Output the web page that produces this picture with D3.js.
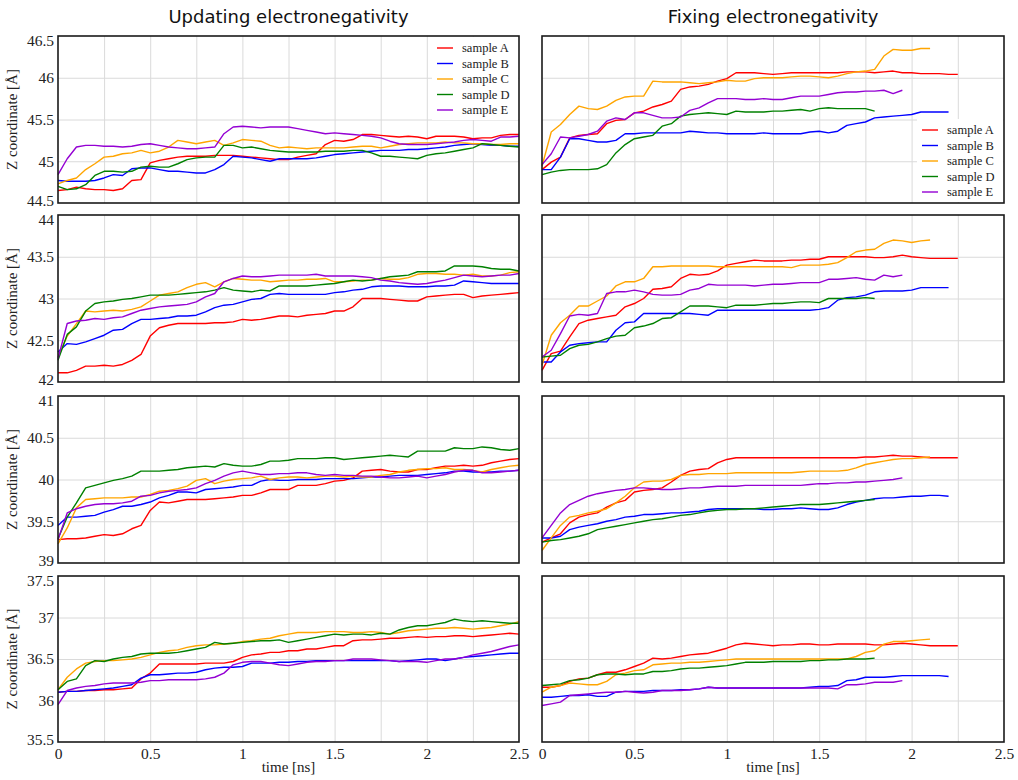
<!DOCTYPE html>
<html>
<head>
<meta charset="utf-8">
<script src="https://cdn.jsdelivr.net/npm/d3@7"></script>
<style>
  body { margin: 0; background: #fff; }
  svg { display: block; }
</style>
</head>
<body>
<svg id="chart" width="1018" height="780"></svg>
<script>
// ---- data -------------------------------------------------------------
// sampling times (ns), one value every 0.05 ns
const time = d3.range(0, 2.5001, 0.05).map(d => +d.toFixed(2));

const sampleNames = ["sample A", "sample B", "sample C", "sample D", "sample E"];
const sampleColors = ["#ff0000", "#0000ff", "#ffa500", "#008000", "#9400d3"];
const columnTitles = ["Updating electronegativity", "Fixing electronegativity"];
const yDomains = [[44.5, 46.5], [42, 44], [39, 41], [35.5, 37.5]];
const yTickValues = [
  [44.5, 45, 45.5, 46, 46.5],
  [42, 42.5, 43, 43.5, 44],
  [39, 39.5, 40, 40.5, 41],
  [35.5, 36, 36.5, 37, 37.5]
];
const xTickValues = [0, 0.5, 1, 1.5, 2, 2.5];
const xGridValues = [0.25, 0.5, 0.75, 1, 1.25, 1.5, 1.75, 2, 2.25];

// Updating electronegativity, layer 1
const upd1A = [44.65, 44.66, 44.69, 44.67, 44.66, 44.66, 44.65, 44.67, 44.77, 44.78,
  44.98, 45.01, 45.03, 45.05, 45.06, 45.06, 45.06, 45.07, 45.07, 45.07,
  45.06, 45.05, 45.04, 45.03, 45.02, 45.02, 45.05, 45.07, 45.09, 45.2,
  45.25, 45.24, 45.26, 45.32, 45.32, 45.31, 45.3, 45.29, 45.3, 45.29,
  45.27, 45.3, 45.3, 45.3, 45.29, 45.27, 45.28, 45.28, 45.31, 45.32, 45.32];
const upd1B = [44.77, 44.76, 44.76, 44.76, 44.77, 44.8, 44.84, 44.83, 44.91, 44.92,
  44.92, 44.9, 44.88, 44.88, 44.87, 44.86, 44.86, 44.9, 44.96, 45.06,
  45.05, 45.04, 45.02, 45.0, 45.03, 45.03, 45.03, 45.03, 45.04, 45.06,
  45.08, 45.09, 45.1, 45.11, 45.12, 45.13, 45.13, 45.13, 45.14, 45.14,
  45.15, 45.16, 45.17, 45.19, 45.2, 45.21, 45.2, 45.19, 45.19, 45.18, 45.18];
const upd1C = [44.73, 44.77, 44.8, 44.9, 44.97, 45.05, 45.06, 45.09, 45.1, 45.13,
  45.1, 45.12, 45.17, 45.25, 45.23, 45.21, 45.23, 45.25, 45.19, 45.22,
  45.26, 45.25, 45.24, 45.19, 45.16, 45.17, 45.16, 45.15, 45.16, 45.16,
  45.16, 45.16, 45.17, 45.18, 45.18, 45.16, 45.18, 45.2, 45.21, 45.22,
  45.22, 45.22, 45.23, 45.22, 45.22, 45.21, 45.21, 45.2, 45.2, 45.21, 45.21];
const upd1D = [44.7, 44.66, 44.67, 44.72, 44.83, 44.88, 44.88, 44.87, 44.88, 44.93,
  44.94, 44.93, 44.93, 44.97, 45.02, 45.04, 45.05, 45.05, 45.19, 45.19,
  45.16, 45.17, 45.15, 45.13, 45.12, 45.11, 45.11, 45.11, 45.11, 45.12,
  45.12, 45.12, 45.13, 45.13, 45.1, 45.06, 45.06, 45.05, 45.04, 45.03,
  45.07, 45.09, 45.1, 45.12, 45.14, 45.16, 45.21, 45.2, 45.19, 45.18, 45.17];
const upd1E = [44.84, 45.03, 45.17, 45.19, 45.19, 45.18, 45.18, 45.17, 45.18, 45.2,
  45.21, 45.19, 45.17, 45.16, 45.15, 45.15, 45.16, 45.17, 45.33, 45.41,
  45.42, 45.41, 45.4, 45.41, 45.41, 45.41, 45.39, 45.37, 45.35, 45.33,
  45.34, 45.33, 45.32, 45.31, 45.3, 45.28, 45.24, 45.21, 45.2, 45.2,
  45.2, 45.21, 45.22, 45.23, 45.25, 45.26, 45.25, 45.24, 45.29, 45.29, 45.3];

// Updating electronegativity, layer 2
const upd2A = [42.11, 42.11, 42.14, 42.19, 42.19, 42.2, 42.19, 42.21, 42.26, 42.33,
  42.55, 42.65, 42.68, 42.7, 42.7, 42.7, 42.7, 42.71, 42.71, 42.72,
  42.75, 42.74, 42.75, 42.77, 42.79, 42.79, 42.78, 42.8, 42.81, 42.82,
  42.85, 42.85, 42.9, 43.0, 43.0, 43.0, 42.99, 42.98, 42.97, 42.97,
  43.02, 43.03, 43.04, 43.05, 43.05, 43.01, 43.03, 43.04, 43.05, 43.06, 43.07];
const upd2B = [42.36, 42.46, 42.45, 42.48, 42.52, 42.56, 42.62, 42.63, 42.7, 42.75,
  42.75, 42.76, 42.77, 42.79, 42.79, 42.8, 42.84, 42.89, 42.92, 42.93,
  42.96, 42.99, 43.0, 43.05, 43.06, 43.05, 43.05, 43.05, 43.05, 43.05,
  43.07, 43.08, 43.1, 43.11, 43.14, 43.15, 43.15, 43.15, 43.14, 43.14,
  43.14, 43.15, 43.15, 43.16, 43.21, 43.2, 43.19, 43.18, 43.18, 43.18, 43.18];
const upd2C = [42.3, 42.55, 42.7, 42.85, 42.84, 42.85, 42.86, 42.85, 42.87, 42.9,
  42.97, 43.04, 43.06, 43.08, 43.13, 43.17, 43.19, 43.14, 43.2, 43.24,
  43.23, 43.22, 43.22, 43.2, 43.21, 43.22, 43.22, 43.23, 43.23, 43.24,
  43.2, 43.2, 43.21, 43.22, 43.22, 43.24, 43.23, 43.23, 43.25, 43.29,
  43.3, 43.3, 43.29, 43.29, 43.28, 43.29, 43.27, 43.27, 43.28, 43.31, 43.32];
const upd2D = [42.26, 42.57, 42.66, 42.85, 42.94, 42.96, 42.97, 42.99, 43.0, 43.02,
  43.04, 43.04, 43.04, 43.05, 43.06, 43.07, 43.08, 43.1, 43.13, 43.1,
  43.09, 43.08, 43.1, 43.09, 43.15, 43.15, 43.15, 43.15, 43.16, 43.17,
  43.18, 43.2, 43.22, 43.21, 43.22, 43.24, 43.26, 43.27, 43.28, 43.32,
  43.32, 43.32, 43.33, 43.39, 43.39, 43.39, 43.38, 43.36, 43.35, 43.35, 43.33];
const upd2E = [42.28, 42.7, 42.73, 42.74, 42.76, 42.75, 42.77, 42.78, 42.82, 42.86,
  42.88, 42.9, 42.91, 42.92, 42.93, 42.96, 43.02, 43.06, 43.2, 43.24,
  43.27, 43.26, 43.26, 43.27, 43.28, 43.28, 43.28, 43.28, 43.29, 43.27,
  43.27, 43.27, 43.27, 43.26, 43.25, 43.22, 43.21, 43.19, 43.18, 43.17,
  43.18, 43.2, 43.22, 43.25, 43.28, 43.27, 43.26, 43.27, 43.28, 43.28, 43.3];

// Updating electronegativity, layer 3
const upd3A = [39.28, 39.29, 39.29, 39.3, 39.32, 39.34, 39.33, 39.35, 39.41, 39.45,
  39.63, 39.73, 39.72, 39.74, 39.76, 39.76, 39.76, 39.77, 39.78, 39.79,
  39.81, 39.81, 39.84, 39.88, 39.88, 39.88, 39.93, 39.93, 39.93, 39.95,
  39.98, 39.99, 40.02, 40.1, 40.11, 40.12, 40.1, 40.09, 40.09, 40.12,
  40.12, 40.14, 40.16, 40.16, 40.17, 40.16, 40.17, 40.2, 40.22, 40.24, 40.25];
const upd3B = [39.45, 39.55, 39.55, 39.56, 39.57, 39.61, 39.64, 39.68, 39.68, 39.7,
  39.73, 39.78, 39.81, 39.85, 39.85, 39.84, 39.88, 39.89, 39.9, 39.91,
  39.93, 39.93, 39.98, 40.0, 39.99, 39.99, 40.0, 40.0, 40.0, 40.01,
  40.01, 40.01, 40.01, 40.02, 40.03, 40.03, 40.04, 40.05, 40.05, 40.05,
  40.06, 40.07, 40.08, 40.1, 40.1, 40.09, 40.09, 40.09, 40.1, 40.1, 40.11];
const upd3C = [39.23, 39.42, 39.66, 39.76, 39.77, 39.78, 39.78, 39.78, 39.79, 39.79,
  39.82, 39.86, 39.87, 39.89, 39.92, 39.99, 40.01, 39.95, 39.98, 40.0,
  40.01, 40.02, 40.04, 40.0, 40.02, 40.03, 40.03, 40.02, 40.03, 40.04,
  40.04, 40.03, 40.04, 40.03, 40.03, 40.05, 40.06, 40.09, 40.11, 40.12,
  40.13, 40.13, 40.14, 40.12, 40.12, 40.11, 40.09, 40.12, 40.14, 40.16, 40.17];
const upd3D = [39.29, 39.55, 39.72, 39.9, 39.93, 39.96, 39.99, 40.01, 40.04, 40.1,
  40.1, 40.1, 40.11, 40.12, 40.14, 40.15, 40.16, 40.15, 40.19, 40.17,
  40.16, 40.16, 40.18, 40.22, 40.22, 40.23, 40.25, 40.25, 40.25, 40.26,
  40.26, 40.24, 40.25, 40.26, 40.27, 40.28, 40.29, 40.28, 40.27, 40.34,
  40.34, 40.34, 40.34, 40.38, 40.37, 40.37, 40.39, 40.38, 40.36, 40.35, 40.37];
const upd3E = [39.28, 39.6, 39.65, 39.68, 39.7, 39.71, 39.71, 39.72, 39.74, 39.8,
  39.81, 39.84, 39.86, 39.87, 39.88, 39.9, 39.95, 39.99, 40.04, 40.08,
  40.1, 40.08, 40.06, 40.06, 40.07, 40.07, 40.08, 40.08, 40.06, 40.05,
  40.06, 40.05, 40.05, 40.04, 40.04, 40.03, 40.02, 40.02, 40.03, 40.04,
  40.02, 40.04, 40.06, 40.09, 40.11, 40.11, 40.08, 40.08, 40.09, 40.1, 40.11];

// Updating electronegativity, layer 4
const upd4A = [36.1, 36.11, 36.11, 36.12, 36.12, 36.13, 36.13, 36.14, 36.15, 36.26,
  36.33, 36.44, 36.44, 36.44, 36.44, 36.44, 36.45, 36.45, 36.45, 36.47,
  36.52, 36.55, 36.56, 36.58, 36.58, 36.6, 36.6, 36.62, 36.62, 36.64,
  36.66, 36.66, 36.72, 36.73, 36.73, 36.74, 36.75, 36.75, 36.76, 36.77,
  36.76, 36.77, 36.77, 36.78, 36.78, 36.77, 36.78, 36.79, 36.8, 36.81, 36.8];
const upd4B = [36.1, 36.11, 36.11, 36.12, 36.13, 36.14, 36.15, 36.17, 36.19, 36.27,
  36.31, 36.31, 36.32, 36.33, 36.33, 36.34, 36.37, 36.39, 36.4, 36.4,
  36.41, 36.45, 36.45, 36.45, 36.46, 36.46, 36.47, 36.47, 36.48, 36.48,
  36.48, 36.48, 36.48, 36.48, 36.48, 36.48, 36.48, 36.47, 36.48, 36.49,
  36.5, 36.5, 36.48, 36.5, 36.52, 36.53, 36.54, 36.55, 36.56, 36.57, 36.57];
const upd4C = [36.13, 36.28, 36.38, 36.45, 36.47, 36.48, 36.48, 36.49, 36.5, 36.52,
  36.55, 36.58, 36.6, 36.61, 36.64, 36.66, 36.67, 36.67, 36.68, 36.69,
  36.71, 36.72, 36.74, 36.75, 36.78, 36.8, 36.82, 36.82, 36.82, 36.83,
  36.83, 36.83, 36.82, 36.82, 36.83, 36.82, 36.8, 36.82, 36.84, 36.85,
  36.86, 36.87, 36.87, 36.88, 36.87, 36.86, 36.87, 36.88, 36.9, 36.92, 36.95];
const upd4D = [36.13, 36.23, 36.26, 36.42, 36.48, 36.47, 36.5, 36.52, 36.53, 36.56,
  36.57, 36.57, 36.57, 36.58, 36.6, 36.62, 36.64, 36.7, 36.68, 36.69,
  36.7, 36.71, 36.72, 36.72, 36.73, 36.7, 36.72, 36.74, 36.76, 36.78,
  36.8, 36.79, 36.8, 36.8, 36.79, 36.81, 36.8, 36.85, 36.88, 36.9,
  36.9, 36.92, 36.94, 36.98, 36.96, 36.95, 36.96, 36.95, 36.94, 36.93, 36.93];
const upd4E = [35.95, 36.12, 36.15, 36.17, 36.18, 36.2, 36.21, 36.21, 36.21, 36.22,
  36.24, 36.24, 36.25, 36.25, 36.25, 36.25, 36.26, 36.28, 36.33, 36.43,
  36.46, 36.47, 36.47, 36.45, 36.43, 36.42, 36.44, 36.46, 36.47, 36.47,
  36.48, 36.48, 36.5, 36.5, 36.5, 36.49, 36.48, 36.47, 36.47, 36.47,
  36.46, 36.48, 36.5, 36.5, 36.52, 36.55, 36.57, 36.59, 36.62, 36.65, 36.67];

// Fixing electronegativity, layer 1 (runs end at different times)
const fix1A = [44.9, 44.99, 45.05, 45.28, 45.31, 45.32, 45.33, 45.45, 45.49, 45.5,
  45.58, 45.6, 45.65, 45.68, 45.72, 45.86, 45.89, 45.9, 45.92, 45.96,
  45.99, 46.06, 46.06, 46.06, 46.05, 46.04, 46.05, 46.06, 46.06, 46.06,
  46.06, 46.06, 46.06, 46.07, 46.07, 46.07, 46.06, 46.07, 46.08, 46.06,
  46.06, 46.05, 46.05, 46.05, 46.04, 46.04];
const fix1B = [44.9, 44.9, 45.05, 45.27, 45.27, 45.25, 45.23, 45.23, 45.25, 45.33,
  45.33, 45.34, 45.34, 45.34, 45.34, 45.34, 45.36, 45.35, 45.34, 45.34,
  45.33, 45.33, 45.33, 45.33, 45.34, 45.33, 45.33, 45.33, 45.33, 45.35,
  45.36, 45.34, 45.36, 45.43, 45.45, 45.47, 45.52, 45.53, 45.54, 45.55,
  45.56, 45.59, 45.59, 45.59, 45.59];
const fix1C = [44.94, 45.35, 45.44, 45.56, 45.66, 45.63, 45.62, 45.66, 45.73, 45.77,
  45.78, 45.78, 45.96, 45.95, 45.95, 45.95, 45.94, 45.93, 45.94, 45.95,
  45.97, 45.96, 45.96, 45.99, 46.0, 46.0, 46.0, 46.01, 46.02, 46.02,
  46.01, 46.0, 46.02, 46.05, 46.07, 46.08, 46.1, 46.26, 46.34, 46.33,
  46.33, 46.35, 46.35];
const fix1D = [44.84, 44.87, 44.89, 44.9, 44.9, 44.9, 44.91, 44.96, 45.1, 45.2,
  45.27, 45.29, 45.31, 45.42, 45.45, 45.54, 45.56, 45.57, 45.58, 45.57,
  45.56, 45.6, 45.59, 45.59, 45.59, 45.6, 45.6, 45.61, 45.62, 45.6,
  45.63, 45.64, 45.63, 45.63, 45.63, 45.63, 45.6];
const fix1E = [44.96, 45.09, 45.29, 45.28, 45.3, 45.32, 45.36, 45.48, 45.52, 45.5,
  45.58, 45.58, 45.55, 45.52, 45.52, 45.53, 45.61, 45.64, 45.7, 45.75,
  45.75, 45.75, 45.74, 45.74, 45.75, 45.74, 45.74, 45.76, 45.78, 45.78,
  45.78, 45.8, 45.82, 45.83, 45.83, 45.84, 45.84, 45.85, 45.81, 45.85];

// Fixing electronegativity, layer 2
const fix2A = [42.14, 42.34, 42.37, 42.54, 42.7, 42.74, 42.76, 42.78, 42.8, 42.9,
  42.94, 43.0, 43.11, 43.12, 43.14, 43.24, 43.29, 43.28, 43.29, 43.33,
  43.4, 43.42, 43.44, 43.46, 43.45, 43.45, 43.45, 43.46, 43.46, 43.47,
  43.47, 43.5, 43.5, 43.5, 43.5, 43.5, 43.49, 43.49, 43.5, 43.52,
  43.5, 43.49, 43.48, 43.48, 43.48, 43.48];
const fix2B = [42.24, 42.24, 42.36, 42.44, 42.46, 42.47, 42.48, 42.48, 42.62, 42.71,
  42.72, 42.82, 42.82, 42.82, 42.82, 42.82, 42.82, 42.81, 42.8, 42.86,
  42.86, 42.86, 42.86, 42.86, 42.86, 42.86, 42.86, 42.86, 42.86, 42.86,
  42.87, 42.89, 42.98, 43.01, 43.02, 43.04, 43.08, 43.09, 43.09, 43.09,
  43.1, 43.13, 43.13, 43.13, 43.13];
const fix2C = [42.2, 42.56, 42.71, 42.8, 42.91, 42.91, 42.97, 43.03, 43.15, 43.2,
  43.2, 43.24, 43.38, 43.38, 43.39, 43.39, 43.39, 43.39, 43.39, 43.38,
  43.38, 43.38, 43.38, 43.38, 43.38, 43.38, 43.38, 43.37, 43.4, 43.4,
  43.4, 43.41, 43.43, 43.49, 43.56, 43.58, 43.59, 43.66, 43.7, 43.69,
  43.67, 43.69, 43.7];
const fix2D = [42.3, 42.31, 42.32, 42.4, 42.44, 42.45, 42.48, 42.52, 42.55, 42.56,
  42.65, 42.67, 42.7, 42.76, 42.77, 42.84, 42.91, 42.91, 42.91, 42.9,
  42.89, 42.92, 42.92, 42.92, 42.93, 42.94, 42.94, 42.95, 42.96, 42.96,
  42.95, 43.0, 43.0, 43.0, 43.0, 43.01, 43.0];
const fix2E = [42.3, 42.38, 42.58, 42.79, 42.81, 42.8, 42.82, 43.06, 43.08, 43.08,
  43.1, 43.08, 43.05, 43.04, 43.04, 43.05, 43.1, 43.12, 43.17, 43.16,
  43.16, 43.16, 43.16, 43.15, 43.16, 43.17, 43.17, 43.18, 43.19, 43.19,
  43.19, 43.23, 43.23, 43.24, 43.25, 43.23, 43.22, 43.28, 43.26, 43.28];

// Fixing electronegativity, layer 3
const fix3A = [39.25, 39.3, 39.35, 39.48, 39.55, 39.58, 39.6, 39.67, 39.72, 39.75,
  39.85, 39.87, 39.88, 39.9, 39.97, 40.05, 40.1, 40.12, 40.13, 40.2,
  40.24, 40.26, 40.26, 40.26, 40.26, 40.26, 40.26, 40.26, 40.26, 40.26,
  40.26, 40.26, 40.26, 40.26, 40.26, 40.27, 40.27, 40.28, 40.29, 40.28,
  40.28, 40.27, 40.26, 40.26, 40.26, 40.26];
const fix3B = [39.3, 39.3, 39.32, 39.4, 39.43, 39.45, 39.47, 39.5, 39.52, 39.55,
  39.56, 39.58, 39.58, 39.59, 39.6, 39.6, 39.61, 39.62, 39.64, 39.65,
  39.65, 39.65, 39.65, 39.65, 39.64, 39.64, 39.65, 39.65, 39.66, 39.65,
  39.64, 39.64, 39.66, 39.7, 39.73, 39.75, 39.77, 39.78, 39.78, 39.79,
  39.8, 39.8, 39.81, 39.81, 39.8];
const fix3C = [39.15, 39.3, 39.45, 39.55, 39.57, 39.6, 39.62, 39.65, 39.72, 39.8,
  39.9, 39.97, 39.98, 39.98, 40.0, 40.05, 40.06, 40.06, 40.07, 40.07,
  40.07, 40.08, 40.08, 40.08, 40.08, 40.08, 40.08, 40.08, 40.09, 40.1,
  40.1, 40.1, 40.1, 40.11, 40.14, 40.18, 40.2, 40.22, 40.24, 40.25,
  40.25, 40.26, 40.27];
const fix3D = [39.25, 39.27, 39.28, 39.3, 39.32, 39.35, 39.4, 39.42, 39.44, 39.46,
  39.48, 39.5, 39.52, 39.53, 39.55, 39.57, 39.58, 39.6, 39.62, 39.63,
  39.64, 39.64, 39.65, 39.65, 39.66, 39.67, 39.68, 39.69, 39.7, 39.7,
  39.7, 39.71, 39.72, 39.73, 39.74, 39.75, 39.76];
const fix3E = [39.3, 39.45, 39.6, 39.7, 39.75, 39.8, 39.83, 39.85, 39.87, 39.88,
  39.9, 39.9, 39.89, 39.88, 39.88, 39.89, 39.9, 39.9, 39.91, 39.92,
  39.92, 39.92, 39.93, 39.93, 39.93, 39.93, 39.93, 39.93, 39.93, 39.94,
  39.95, 39.95, 39.96, 39.96, 39.97, 39.97, 39.98, 39.99, 40.0, 40.02];

// Fixing electronegativity, layer 4
const fix4A = [36.16, 36.16, 36.18, 36.23, 36.26, 36.27, 36.31, 36.34, 36.34, 36.37,
  36.41, 36.45, 36.51, 36.5, 36.51, 36.53, 36.55, 36.56, 36.57, 36.6,
  36.63, 36.67, 36.69, 36.68, 36.67, 36.66, 36.67, 36.67, 36.68, 36.68,
  36.67, 36.67, 36.68, 36.68, 36.68, 36.68, 36.67, 36.67, 36.68, 36.69,
  36.68, 36.67, 36.66, 36.66, 36.66, 36.66];
const fix4B = [36.04, 36.04, 36.05, 36.06, 36.06, 36.07, 36.05, 36.05, 36.1, 36.11,
  36.11, 36.11, 36.12, 36.12, 36.12, 36.13, 36.13, 36.14, 36.16, 36.15,
  36.15, 36.15, 36.15, 36.15, 36.15, 36.15, 36.15, 36.15, 36.15, 36.16,
  36.17, 36.17, 36.18, 36.24, 36.25, 36.28, 36.28, 36.28, 36.29, 36.3,
  36.3, 36.3, 36.3, 36.3, 36.29];
const fix4C = [36.1, 36.16, 36.18, 36.21, 36.2, 36.19, 36.19, 36.23, 36.31, 36.33,
  36.36, 36.37, 36.43, 36.44, 36.45, 36.45, 36.46, 36.46, 36.47, 36.48,
  36.49, 36.5, 36.5, 36.5, 36.5, 36.5, 36.5, 36.5, 36.5, 36.5,
  36.5, 36.5, 36.5, 36.5, 36.53, 36.58, 36.6, 36.68, 36.71, 36.71,
  36.72, 36.73, 36.74];
const fix4D = [36.18, 36.19, 36.2, 36.24, 36.25, 36.27, 36.31, 36.32, 36.32, 36.31,
  36.32, 36.32, 36.35, 36.35, 36.36, 36.38, 36.39, 36.39, 36.4, 36.41,
  36.42, 36.44, 36.46, 36.46, 36.46, 36.47, 36.47, 36.47, 36.47, 36.48,
  36.48, 36.49, 36.49, 36.5, 36.5, 36.5, 36.51];
const fix4E = [35.94, 35.96, 35.98, 36.06, 36.07, 36.08, 36.09, 36.1, 36.1, 36.11,
  36.1, 36.09, 36.1, 36.12, 36.12, 36.12, 36.13, 36.14, 36.16, 36.15,
  36.15, 36.15, 36.15, 36.15, 36.15, 36.15, 36.15, 36.15, 36.15, 36.15,
  36.15, 36.15, 36.14, 36.19, 36.19, 36.2, 36.22, 36.22, 36.22, 36.24];

// panel grid: rows = layers, columns = updating / fixing
const panelSeries = [
  [[upd1A, upd1B, upd1C, upd1D, upd1E], [fix1A, fix1B, fix1C, fix1D, fix1E]],
  [[upd2A, upd2B, upd2C, upd2D, upd2E], [fix2A, fix2B, fix2C, fix2D, fix2E]],
  [[upd3A, upd3B, upd3C, upd3D, upd3E], [fix3A, fix3B, fix3C, fix3D, fix3E]],
  [[upd4A, upd4B, upd4C, upd4D, upd4E], [fix4A, fix4B, fix4C, fix4D, fix4E]]
];

// ---- layout -----------------------------------------------------------
const columns = [{ left: 58, right: 519 }, { left: 542, right: 1004 }];
const rows = [
  { top: 36, bottom: 203 },
  { top: 215, bottom: 382 },
  { top: 396, bottom: 563 },
  { top: 576, bottom: 742 }
];
const serif = "'Liberation Serif', 'Times New Roman', serif";
const sans = "'DejaVu Sans', Verdana, sans-serif";

const svg = d3.select("#chart");
svg.append("rect").attr("width", 1018).attr("height", 780).attr("fill", "#fff");

// column titles
columns.forEach((c, ci) => {
  svg.append("text")
    .attr("x", (c.left + c.right) / 2)
    .attr("y", 23)
    .attr("text-anchor", "middle")
    .attr("font-family", sans)
    .attr("font-size", 18)
    .attr("fill", "#111")
    .text(columnTitles[ci]);
});

rows.forEach((r, ri) => {
  columns.forEach((c, ci) => {
    const x = d3.scaleLinear().domain([0, 2.5]).range([c.left, c.right]);
    const y = d3.scaleLinear().domain(yDomains[ri]).range([r.bottom, r.top]);
    const g = svg.append("g");
    const h = r.bottom - r.top, w = c.right - c.left;

    // grid lines
    g.append("g")
      .attr("transform", `translate(0,${r.bottom})`)
      .call(d3.axisBottom(x).tickValues(xGridValues).tickSize(-h).tickFormat(""))
      .call(a => a.select(".domain").remove())
      .call(a => a.selectAll("line").attr("stroke", "#dadada").attr("stroke-width", 1));
    g.append("g")
      .attr("transform", `translate(${c.left},0)`)
      .call(d3.axisLeft(y).tickValues(yTickValues[ri].slice(1, -1)).tickSize(-w).tickFormat(""))
      .call(a => a.select(".domain").remove())
      .call(a => a.selectAll("line").attr("stroke", "#dadada").attr("stroke-width", 1));

    // data lines
    const line = d3.line()
      .x((d, i) => x(time[i]))
      .y(d => y(d));
    panelSeries[ri][ci].forEach((vals, si) => {
      g.append("path")
        .datum(vals)
        .attr("fill", "none")
        .attr("stroke", sampleColors[si])
        .attr("stroke-width", 1.4)
        .attr("stroke-linejoin", "round")
        .attr("d", line);
    });

    // y tick labels on the left column only
    if (ci === 0) {
      const [lo, hi] = yDomains[ri];
      g.append("g")
        .attr("transform", `translate(${c.left},0)`)
        .call(d3.axisLeft(y).tickValues(yTickValues[ri]).tickSize(0).tickPadding(4)
          .tickFormat(d => String(d)))
        .call(a => a.select(".domain").remove())
        .call(a => a.selectAll("text")
          .attr("font-family", serif)
          .attr("font-size", 15.5)
          .attr("fill", "#222")
          .attr("dy", d => d === hi ? "0.6em" : d === lo ? "0.17em" : "0.32em"));
      svg.append("text")
        .attr("transform", `translate(17,${(r.top + r.bottom) / 2}) rotate(-90)`)
        .attr("text-anchor", "middle")
        .attr("font-family", serif)
        .attr("font-size", 15)
        .attr("fill", "#222")
        .text("Z coordinate [Å]");
    }

    // x tick labels and title on the bottom row
    if (ri === rows.length - 1) {
      g.append("g")
        .attr("transform", `translate(0,${r.bottom})`)
        .call(d3.axisBottom(x).tickValues(xTickValues).tickSize(0).tickPadding(6)
          .tickFormat(d => String(d)))
        .call(a => a.select(".domain").remove())
        .call(a => a.selectAll("text")
          .attr("font-family", serif)
          .attr("font-size", 15.5)
          .attr("fill", "#222"));
      svg.append("text")
        .attr("x", (c.left + c.right) / 2)
        .attr("y", 772)
        .attr("text-anchor", "middle")
        .attr("font-family", serif)
        .attr("font-size", 15)
        .attr("fill", "#222")
        .text("time [ns]");
    }

    // frame
    g.append("rect")
      .attr("x", c.left).attr("y", r.top)
      .attr("width", w).attr("height", h)
      .attr("fill", "none")
      .attr("stroke", "#1a1a1a")
      .attr("stroke-width", 1.6);

    // legends: top-right of first updating panel, bottom-right of first fixing panel
    if (ri === 0) {
      const box = ci === 0
        ? { x: c.right - 87, y: r.top + 1, w: 86, h: 83 }
        : { x: c.right - 87, y: r.bottom - 84, w: 86, h: 83 };
      const lg = g.append("g");
      lg.append("rect")
        .attr("x", box.x).attr("y", box.y)
        .attr("width", box.w).attr("height", box.h)
        .attr("fill", "#fff");
      sampleNames.forEach((name, si) => {
        const cy = box.y + 11 + si * 15.5;
        lg.append("line")
          .attr("x1", box.x + 5).attr("x2", box.x + 21)
          .attr("y1", cy).attr("y2", cy)
          .attr("stroke", sampleColors[si]).attr("stroke-width", 1.4);
        lg.append("text")
          .attr("x", box.x + 30).attr("y", cy + 4)
          .attr("font-family", serif)
          .attr("font-size", 12.5)
          .attr("fill", "#222")
          .text(name);
      });
    }
  });
});
</script>
</body>
</html>
